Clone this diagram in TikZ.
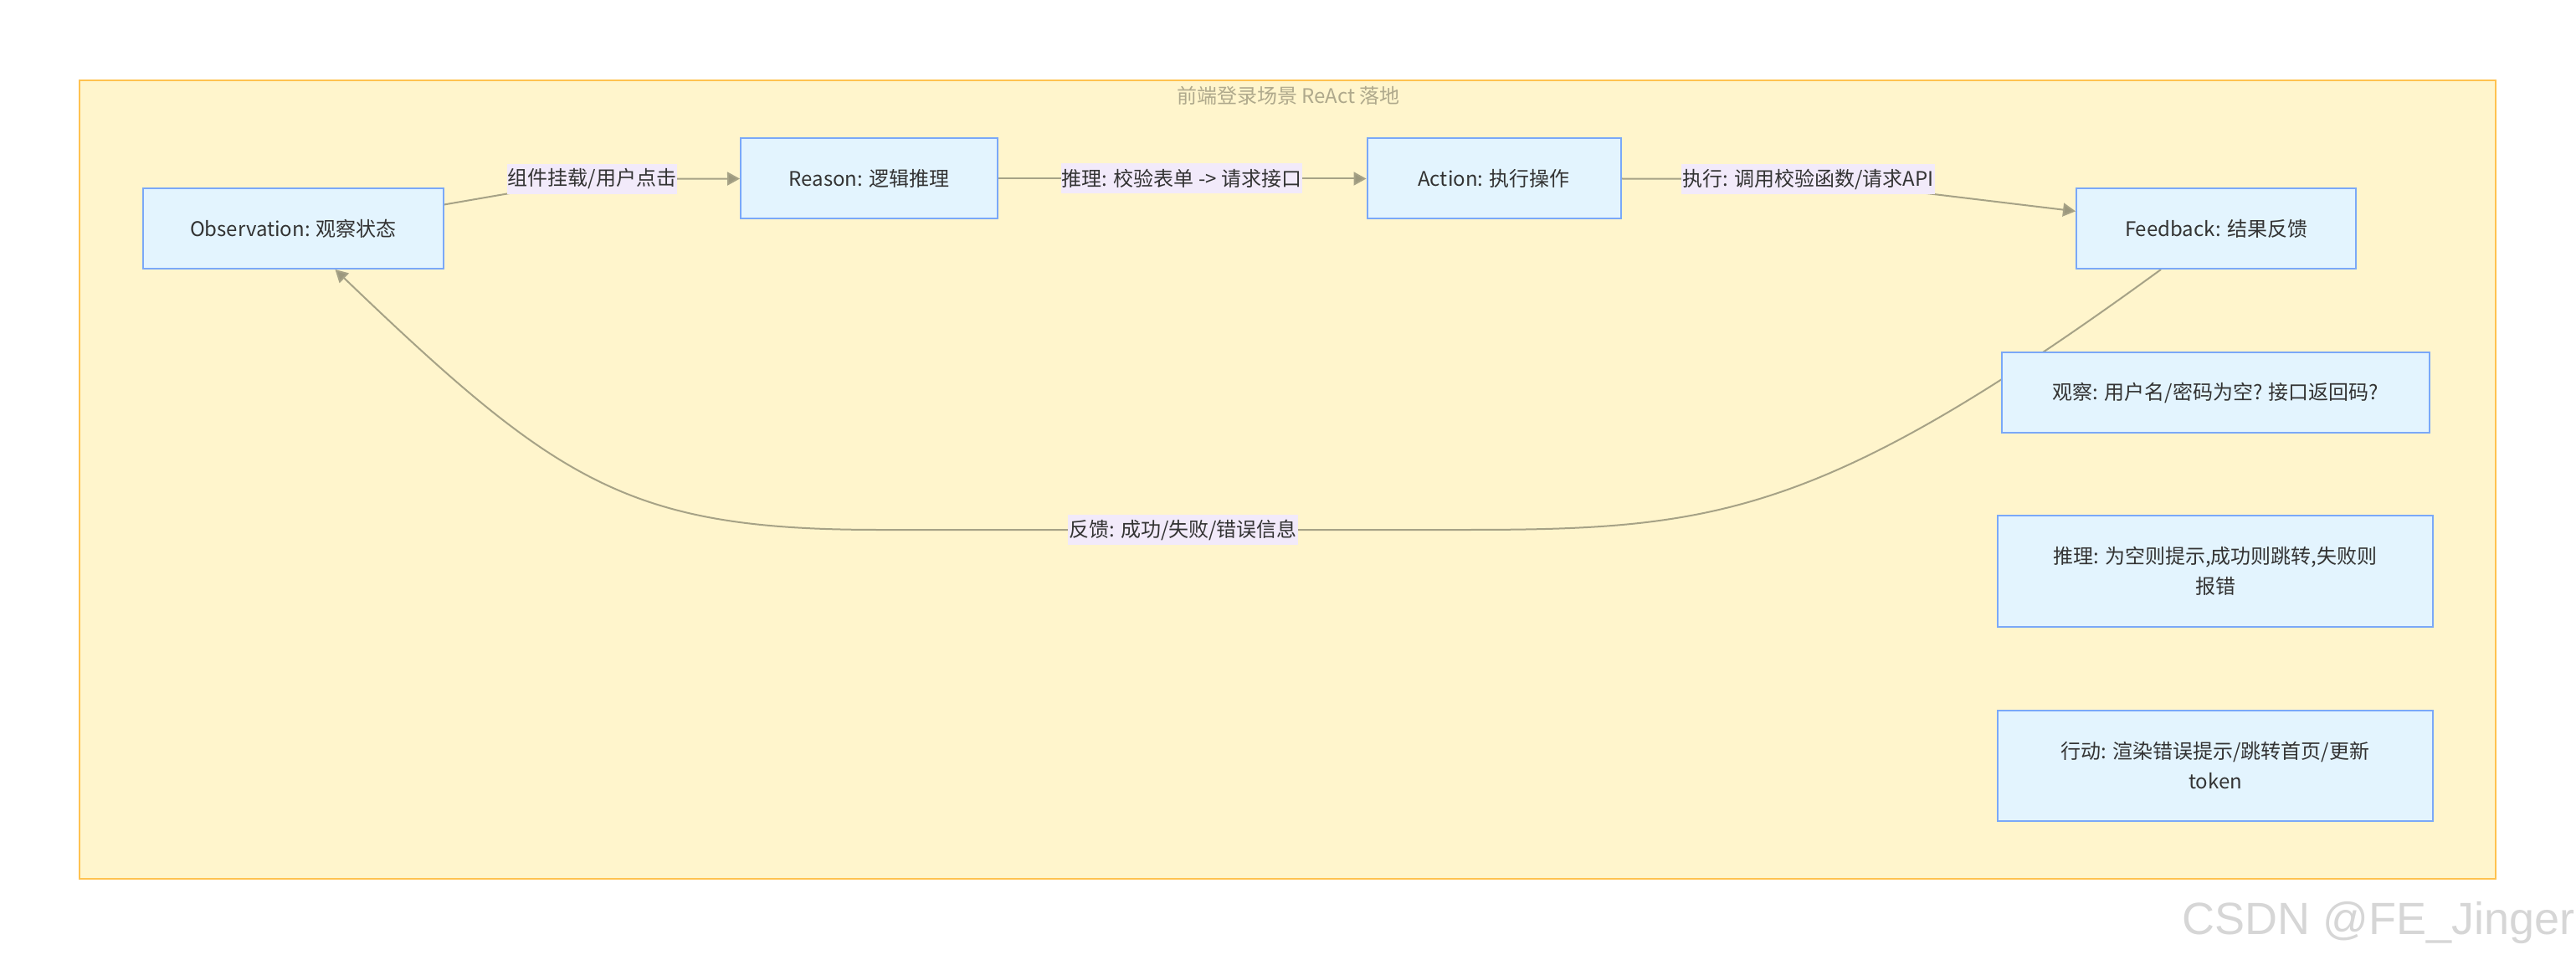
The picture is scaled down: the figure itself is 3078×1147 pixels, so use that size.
\documentclass[tikz,border=0pt]{standalone}
\usepackage{fontspec}
\setmainfont{Noto Sans CJK SC}
\newfontfamily\markfont{Liberation Sans}
\usetikzlibrary{positioning, arrows.meta, backgrounds}

\definecolor{stepfill}{HTML}{E3F4FE}
\definecolor{stepline}{HTML}{7AA8F8}
\definecolor{grpfill}{HTML}{FFF5CC}
\definecolor{grpline}{HTML}{FFC24F}
\definecolor{flowline}{HTML}{A6A286}
\definecolor{tipfill}{HTML}{9C987E}
\definecolor{lblfill}{HTML}{F2EAFA}
\definecolor{textgray}{HTML}{333333}
\definecolor{titlegray}{HTML}{AFA98C}
\definecolor{markgray}{HTML}{D6D6D6}

\begin{document}
\begin{tikzpicture}[
    x=1pt, y=-1pt,
    every node/.style={font=\fontsize{24}{36}\selectfont, text=textgray},
    stepbox/.style={draw=stepline, fill=stepfill, line width=2pt, inner sep=0pt, minimum height=96pt},
    edgelbl/.style={fill=lblfill, inner xsep=1pt, inner ysep=0pt, minimum height=36pt},
    flow/.style={->, draw=flowline, line width=2pt},
    >={Triangle[length=15pt, width=16pt, fill=tipfill]},
]
    \useasboundingbox (0,0) rectangle (3078,1147);

    % main loop
    \node[stepbox, minimum width=359pt] (obs)      at (350.5,273)  {Observation: 观察状态};
    \node[stepbox, minimum width=307pt] (reason)   at (1038.5,213.5) {Reason: 逻辑推理};
    \node[stepbox, minimum width=303pt] (action)   at (1785,213.5) {Action: 执行操作};
    \node[stepbox, minimum width=334pt] (feedback) at (2648,273)   {Feedback: 结果反馈};

    % login example
    \node[stepbox, minimum width=511pt] (obsv) at (2647.5,469) {观察: 用户名/密码为空? 接口返回码?};
    \node[stepbox, minimum width=520pt, minimum height=133pt, align=center] (reas) at (2647,682.5)
        {推理: 为空则提示,成功则跳转,失败则\\报错};
    \node[stepbox, minimum width=520pt, minimum height=132pt, align=center] (act) at (2647,915)
        {行动: 渲染错误提示/跳转首页/更新\\token};

    \node[text=titlegray] (title) at (1539.5,114) {前端登录场景 ReAct 落地};

    \node[edgelbl] (l1) at (707.5,214)  {组件挂载/用户点击};
    \node[edgelbl] (l2) at (1412,213.5) {推理: 校验表单 -> 请求接口};
    \node[edgelbl] (l3) at (2160.5,214) {执行: 调用校验函数/请求API};
    \node[edgelbl] (l4) at (1413.5,633) {反馈: 成功/失败/错误信息};

    \node[font=\markfont\fontsize{54}{60}\selectfont, text=markgray, anchor=base west] (mark)
        at (2604,1116) {CSDN @FE\_Jinger};

    \begin{scope}[on background layer]
        \node[draw=grpline, fill=grpfill, line width=2pt, minimum width=2887pt, minimum height=954pt] (grp)
            at (1538.5,573) {};

        \draw[flow] (obs.9) -- (l1.center) -- (reason.west);
        \draw[flow] (reason) -- (action);
        \draw[flow] (action.east) -- (l3.center) -- (feedback.173);

        \draw[flow] ([xshift=-66pt]feedback.south)
            .. controls +(-405,295) and +(300,0) .. ([xshift=337pt]l4.center)
            -- ([xshift=-363pt]l4.center)
            .. controls +(-300,0) and +(266,255) .. ([xshift=50pt]obs.south);
    \end{scope}
\end{tikzpicture}
\end{document}
